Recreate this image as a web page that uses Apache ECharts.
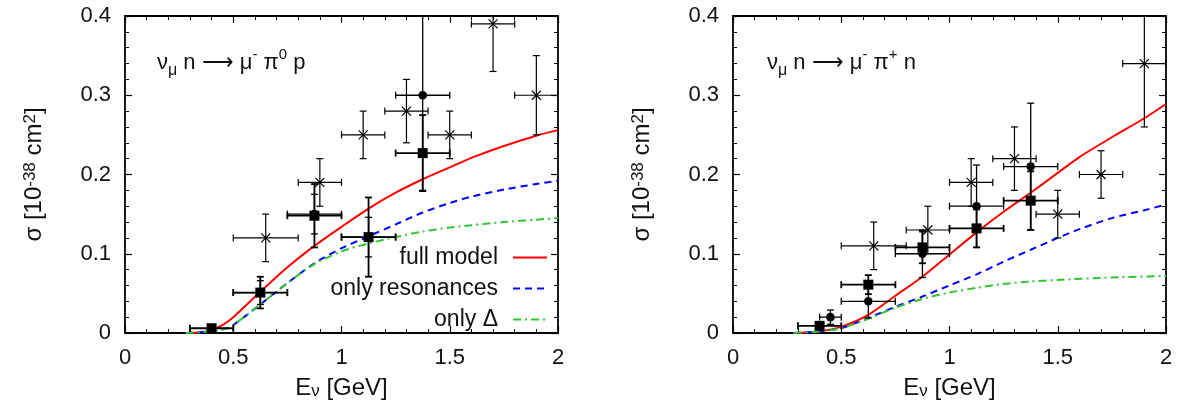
<!DOCTYPE html>
<html>
<head>
<meta charset="utf-8">
<title>Single-pion production on neutrons</title>
<script src="https://cdn.jsdelivr.net/npm/echarts@6/dist/echarts.min.js"></script>
<style>
  html, body { margin: 0; padding: 0; background: #fff; }
  #chart { width: 1186px; height: 413px; }
</style>
</head>
<body>
<div id="chart"></div>
<script>
// ---- theory curves: [E_nu (GeV), sigma (1e-38 cm^2)] ----
const piZeroFull = [[0.28,0],[0.35,0.001],[0.40,0.004],[0.45,0.010],[0.50,0.020],[0.625,0.052],[0.75,0.083],[0.875,0.110],[1.0,0.134],[1.125,0.157],[1.25,0.177],[1.375,0.194],[1.5,0.209],[1.6,0.221],[1.75,0.236],[1.9,0.249],[2.0,0.256]];
const piZeroRes  = [[0.28,0],[0.40,0.002],[0.47,0.006],[0.50,0.010],[0.625,0.036],[0.75,0.063],[0.875,0.088],[1.0,0.107],[1.125,0.122],[1.25,0.137],[1.375,0.152],[1.5,0.164],[1.6,0.172],[1.75,0.181],[1.9,0.188],[2.0,0.192]];
const piZeroDelta= [[0.28,0],[0.40,0.002],[0.47,0.006],[0.50,0.010],[0.625,0.036],[0.75,0.063],[0.875,0.087],[1.0,0.103],[1.125,0.113],[1.25,0.121],[1.375,0.128],[1.5,0.133],[1.6,0.136],[1.75,0.140],[1.9,0.143],[2.0,0.145]];

const piPlusFull = [[0.28,0],[0.40,0.002],[0.50,0.008],[0.625,0.023],[0.75,0.047],[0.875,0.071],[1.0,0.099],[1.125,0.127],[1.25,0.153],[1.375,0.177],[1.5,0.202],[1.6,0.222],[1.75,0.247],[1.9,0.271],[2.0,0.289]];
const piPlusRes  = [[0.28,0],[0.40,0.002],[0.50,0.006],[0.625,0.019],[0.75,0.033],[0.875,0.046],[1.0,0.060],[1.125,0.074],[1.25,0.090],[1.375,0.105],[1.5,0.120],[1.6,0.131],[1.75,0.145],[1.9,0.155],[2.0,0.162]];
const piPlusDelta= [[0.28,0],[0.40,0.002],[0.50,0.006],[0.625,0.018],[0.75,0.032],[0.875,0.043],[1.0,0.051],[1.125,0.057],[1.25,0.062],[1.375,0.065],[1.5,0.067],[1.75,0.070],[2.0,0.072]];

// ---- measurements: [E, sigma, E_low, E_high, sigma_err] ----
const piZeroCross  = [[0.65,0.12,0.5,0.8,0.03],[0.9,0.19,0.8,1.0,0.03],[1.1,0.25,1.0,1.2,0.03],[1.3,0.28,1.2,1.4,0.04],[1.5,0.25,1.4,1.6,0.03],[1.7,0.39,1.6,1.8,0.06],[1.9,0.30,1.8,2.0,0.05]];
const piZeroCircle = [[0.625,0.051,0.5,0.75,0.015],[0.875,0.150,0.75,1.0,0.025],[1.125,0.121,1.0,1.25,0.025],[1.375,0.30,1.25,1.5,0.12]];
const piZeroSquare = [[0.40,0.006,0.3,0.5,0.003],[0.625,0.051,0.5,0.75,0.02],[0.875,0.148,0.75,1.0,0.04],[1.125,0.121,1.0,1.25,0.05],[1.375,0.227,1.25,1.5,0.048]];

const piPlusCross  = [[0.65,0.11,0.5,0.8,0.03],[0.9,0.13,0.8,1.0,0.03],[1.1,0.19,1.0,1.2,0.03],[1.3,0.22,1.2,1.4,0.04],[1.5,0.15,1.4,1.6,0.03],[1.7,0.20,1.6,1.8,0.03],[1.9,0.34,1.8,2.0,0.08]];
const piPlusCircle = [[0.45,0.020,0.4,0.5,0.009],[0.625,0.040,0.5,0.75,0.021],[0.875,0.100,0.75,1.0,0.03],[1.125,0.160,1.0,1.25,0.052],[1.375,0.210,1.25,1.5,0.08]];
const piPlusSquare = [[0.40,0.009,0.3,0.5,0.003],[0.625,0.061,0.5,0.75,0.012],[0.875,0.108,0.75,1.0,0.02],[1.125,0.132,1.0,1.25,0.024],[1.375,0.167,1.25,1.5,0.037]];

// ---- labels ----
const curveNames = ['full model', 'only resonances', 'only Δ'];
const reactionLabels = ['ν{sub|μ} n ⟶ μ{sup|-} π{sup|0} p', 'ν{sub|μ} n ⟶ μ{sup|-} π{sup|+} n'];
const energyName = 'E{sub|ν} [GeV]';
const sigmaName = 'σ [10{sup|-38} cm{sup|2}]';

const FONT = '"Liberation Sans", Arial, Helvetica, sans-serif';
const INK = '#111';
const TICK_FS = 22;
const NAME_FS = 24;
const curveColors = ['#ff0000', '#0000ff', '#33c433'];
const curveDash = ['solid', [7, 5], [8, 4, 2, 4]];

const chart = echarts.init(document.getElementById('chart'), null, { renderer: 'canvas' });

const panels = [
  { left: 125, curves: [piZeroFull, piZeroRes, piZeroDelta], cross: piZeroCross, circle: piZeroCircle, square: piZeroSquare },
  { left: 733, curves: [piPlusFull, piPlusRes, piPlusDelta], cross: piPlusCross, circle: piPlusCircle, square: piPlusSquare }
];

function tickStyle(showLabel, margin, extra) {
  return Object.assign({
    axisLine: { show: true, onZero: false, lineStyle: { color: '#000', width: 1.8 } },
    axisTick: { show: true, inside: true, length: 7, lineStyle: { color: '#000', width: 1.2 } },
    minorTick: { show: true, splitNumber: 5, length: 4, lineStyle: { color: '#000', width: 1 } },
    splitLine: { show: false },
    minorSplitLine: { show: false },
    axisLabel: { show: showLabel, margin: margin, color: INK, fontFamily: FONT, fontSize: TICK_FS }
  }, extra);
}

const xAxes = [], yAxes = [], grids = [], series = [];

// error bars with end caps plus the point marker, all placed through the axes
function makePoint(kind, lw) {
  return function (params, api) {
    const x = api.value(0), y = api.value(1), dy = api.value(4);
    const c = api.coord([x, y]);
    const l = api.coord([api.value(2), y]);
    const r = api.coord([api.value(3), y]);
    const t = api.coord([x, y + dy]);
    const b = api.coord([x, y - dy]);
    const cap = 3.5;
    const seg = (x1, y1, x2, y2) => ({ type: 'line', shape: { x1, y1, x2, y2 },
      style: { stroke: '#000', lineWidth: lw, fill: null } });
    const kids = [
      seg(l[0], l[1], r[0], r[1]), seg(t[0], t[1], b[0], b[1]),
      seg(l[0], l[1] - cap, l[0], l[1] + cap), seg(r[0], r[1] - cap, r[0], r[1] + cap),
      seg(t[0] - cap, t[1], t[0] + cap, t[1]), seg(b[0] - cap, b[1], b[0] + cap, b[1])
    ];
    if (kind === 'cross') {
      const s = 4.5;
      kids.push({ type: 'line', shape: { x1: c[0] - s, y1: c[1] - s, x2: c[0] + s, y2: c[1] + s }, style: { stroke: '#000', lineWidth: 1.2 } });
      kids.push({ type: 'line', shape: { x1: c[0] - s, y1: c[1] + s, x2: c[0] + s, y2: c[1] - s }, style: { stroke: '#000', lineWidth: 1.2 } });
    } else if (kind === 'circle') {
      kids.push({ type: 'circle', shape: { cx: c[0], cy: c[1], r: 4.3 }, style: { fill: '#000' } });
    } else {
      kids.push({ type: 'rect', shape: { x: c[0] - 5, y: c[1] - 5, width: 10, height: 10 }, style: { fill: '#000' } });
    }
    return { type: 'group', children: kids };
  };
}

panels.forEach((p, i) => {
  grids.push({ left: p.left, top: 16, width: 433, height: 317, containLabel: false });
  const xBase = { type: 'value', gridIndex: i, min: 0, max: 2, interval: 0.5 };
  const yBase = { type: 'value', gridIndex: i, min: 0, max: 0.4, interval: 0.1 };
  xAxes.push(Object.assign({}, xBase, tickStyle(true, 14, {
    position: 'bottom',
    name: energyName, nameLocation: 'middle', nameGap: 43,
    nameTextStyle: { color: INK, fontFamily: FONT, fontSize: NAME_FS,
      rich: { sub: { fontSize: 17, verticalAlign: 'bottom', fontFamily: FONT, color: INK } } }
  })));
  xAxes.push(Object.assign({}, xBase, tickStyle(false, 8, { position: 'top' })));
  yAxes.push(Object.assign({}, yBase, tickStyle(true, 14, {
    position: 'left',
    name: sigmaName, nameLocation: 'middle', nameGap: 79, nameRotate: 90,
    nameTextStyle: { color: INK, fontFamily: FONT, fontSize: NAME_FS,
      rich: { sup: { fontSize: 17, verticalAlign: 'top', fontFamily: FONT, color: INK } } }
  })));
  yAxes.push(Object.assign({}, yBase, tickStyle(false, 8, { position: 'right' })));

  p.curves.forEach((data, k) => {
    series.push({
      type: 'line', name: curveNames[k], xAxisIndex: 2 * i, yAxisIndex: 2 * i,
      data: data, showSymbol: false, symbol: 'none', smooth: 0.25, z: 2,
      lineStyle: { color: curveColors[k], width: 2, type: curveDash[k] },
      itemStyle: { color: curveColors[k] }, silent: true
    });
  });

  [['cross', p.cross, 1.2], ['circle', p.circle, 1.3], ['square', p.square, 1.8]].forEach(([kind, data, lw]) => {
    series.push({
      type: 'custom', xAxisIndex: 2 * i, yAxisIndex: 2 * i, clip: true, z: 3, silent: true,
      encode: { x: 0, y: 1 },
      data: data,
      renderItem: makePoint(kind, lw)
    });
  });
});

const reactionStyle = {
  color: INK, fontFamily: FONT, fontSize: 22, fontWeight: 'normal', lineHeight: 32,
  rich: {
    sub: { fontSize: 16, verticalAlign: 'bottom', lineHeight: 14, fontFamily: FONT, color: INK },
    sup: { fontSize: 15, verticalAlign: 'top', lineHeight: 22, fontFamily: FONT, color: INK }
  }
};

chart.setOption({
  animation: false,
  backgroundColor: '#fff',
  title: [
    { text: reactionLabels[0], left: 157, top: 47, padding: 0, textStyle: reactionStyle },
    { text: reactionLabels[1], left: 767, top: 47, padding: 0, textStyle: reactionStyle }
  ],
  legend: {
    data: curveNames, orient: 'vertical', align: 'right',
    right: 1186 - 548, top: 246, padding: 0, itemGap: 8,
    itemWidth: 34, itemHeight: 20, selectedMode: false,
    itemStyle: { color: 'rgba(0,0,0,0)', borderWidth: 0, opacity: 0 },
    textStyle: { color: INK, fontFamily: FONT, fontSize: 23, padding: [0, 10, 0, 0] }
  },
  grid: grids,
  xAxis: xAxes,
  yAxis: yAxes,
  series: series
});
</script>
</body>
</html>
